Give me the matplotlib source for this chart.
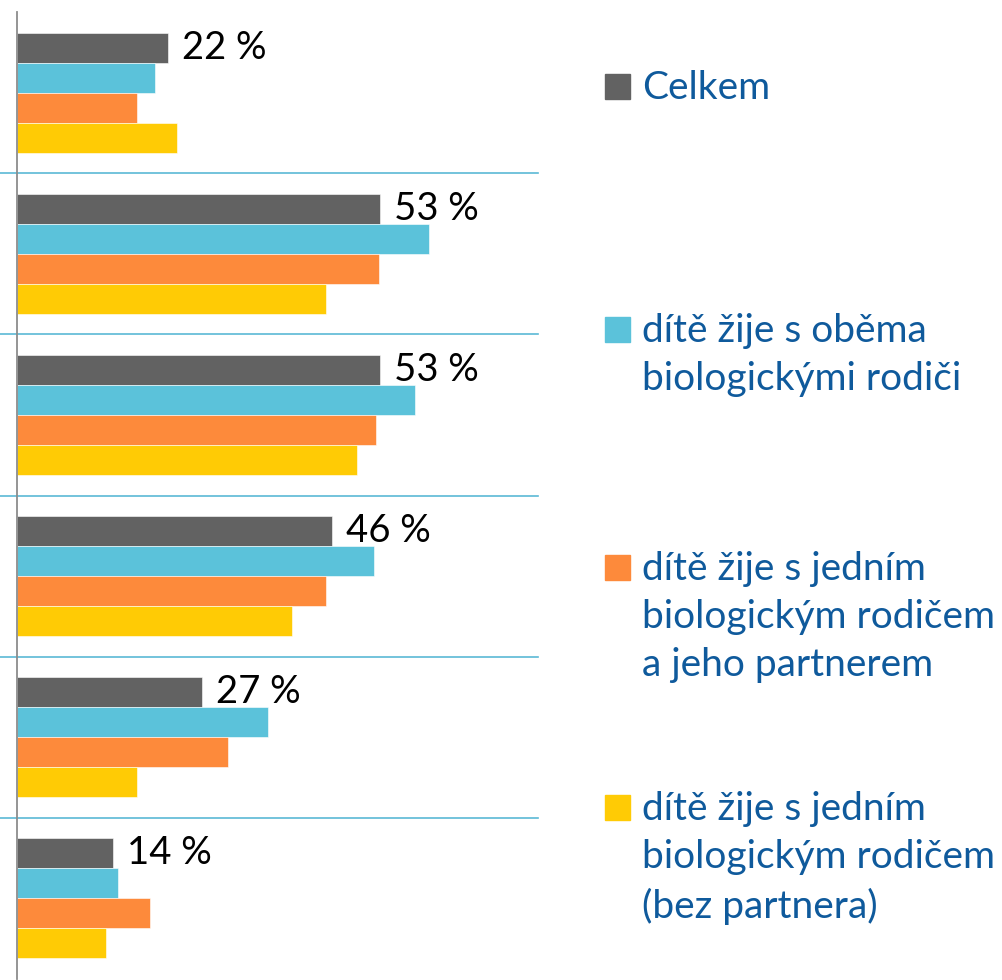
import matplotlib
matplotlib.use("Agg")
import matplotlib.pyplot as plt
import matplotlib.transforms as mtransforms
from matplotlib.patches import Rectangle
import numpy as np

plt.rcParams['font.family'] = ['Lato', 'DejaVu Sans']

groups = ["1", "2", "3", "4", "5", "6"]
series_names = [
    "Celkem",
    "dítě žije s oběma\nbiologickými rodiči",
    "dítě žije s jedním\nbiologickým rodičem\na jeho partnerem",
    "dítě žije s jedním\nbiologickým rodičem\n(bez partnera)",
]
colors = ["#626262", "#5BC2DA", "#FD8A3B", "#FFCB05"]

celkem = [22, 53, 53, 46, 27, 14]
obema = [20.1, 60.1, 58.0, 52.1, 36.6, 14.7]
partner = [17.5, 52.8, 52.4, 45.1, 30.8, 19.4]
bez = [23.4, 45.1, 49.6, 40.1, 17.5, 13.0]
labels = ["22 %", "53 %", "53 %", "46 %", "27 %", "14 %"]

series = [celkem, obema, partner, bez]

W, H = 1002, 980
fig = plt.figure(figsize=(W / 100, H / 100), dpi=100)
ax = fig.add_axes([17 / W, 1 / H, 521 / W, 967 / H])

y = np.arange(len(groups))
bh = 0.186
for i, (vals, c) in enumerate(zip(series, colors)):
    ax.barh(y + (i - 1.5) * bh, vals, height=bh, color=c,
            edgecolor="white", linewidth=0.4)

for gi, (v, lab) in enumerate(zip(celkem, labels)):
    ax.annotate(lab, xy=(v, y[gi] - 1.5 * bh), xytext=(10, 0),
                textcoords="offset points", ha="left", va="center",
                fontsize=27.5, color="black")

ax.set_xlim(0, 76)
ax.set_ylim(len(groups) - 0.5, -0.5)
ax.set_xticks([])
ax.set_yticks([])
for s in ["top", "right", "bottom"]:
    ax.spines[s].set_visible(False)
ax.spines["left"].set_color("#8C8C8C")
ax.spines["left"].set_linewidth(1.3)

trans = mtransforms.blended_transform_factory(ax.transAxes, ax.transData)
for k in range(len(groups) - 1):
    ax.plot([-17 / 521, 1.0], [k + 0.5, k + 0.5], transform=trans,
            color="#5BB9D6", linewidth=1.2, clip_on=False)

# legend
leg_y = [87, 330, 568, 808]
for name, c, yy in zip(series_names, colors, leg_y):
    fig.patches.append(Rectangle((605 / W, 1 - (yy + 12) / H), 25 / W, 25 / H,
                                 transform=fig.transFigure, color=c))
    fig.text(642 / W, 1 - (yy - 17) / H, name, ha="left", va="top",
             fontsize=28, color="#0F5A9C", linespacing=1.42)

fig.savefig("out.png", dpi=100)
